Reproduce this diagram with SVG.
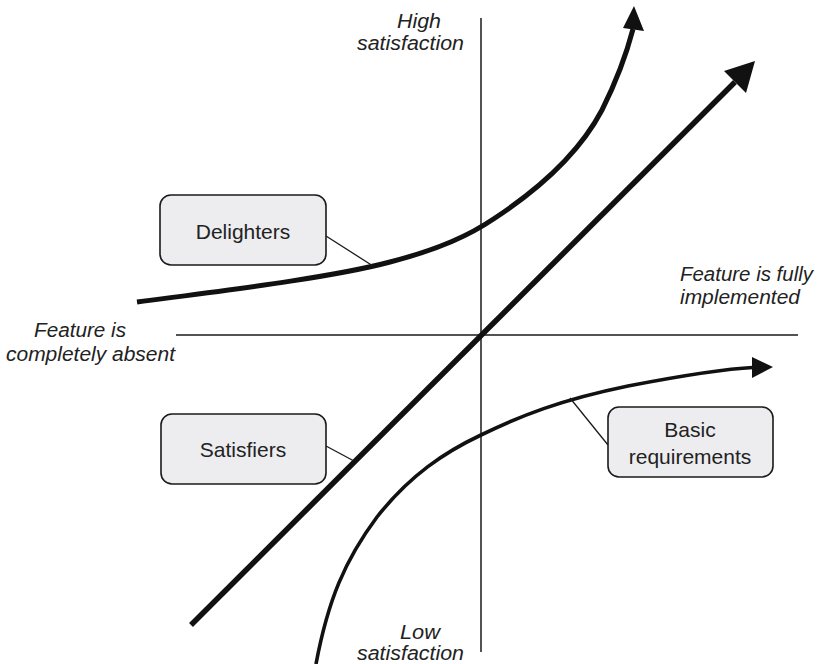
<svg xmlns="http://www.w3.org/2000/svg" width="818" height="664" viewBox="0 0 818 664">
<style>
.axis{stroke:#1a1a1a;stroke-width:1.5;fill:none}
.curve{stroke:#111;fill:none;stroke-linecap:butt}
.head{fill:#111;stroke:none}
.lead{stroke:#1a1a1a;stroke-width:1.3;fill:none}
.box{fill:#ededf0;stroke:#1a1a1a;stroke-width:1.6}
.lbl{font-family:"Liberation Sans",Arial,sans-serif;font-size:21px;fill:#222;text-anchor:middle}
.ax{font-family:"Liberation Sans",Arial,sans-serif;font-size:20px;font-style:italic;fill:#222}
</style>
<rect width="818" height="664" fill="#fff"/>
<g id="axes">
<line class="axis" x1="481" y1="18" x2="481" y2="652"/>
<line class="axis" x1="176" y1="335" x2="798" y2="335"/>
<text class="ax" x="397" y="28" textLength="44" lengthAdjust="spacingAndGlyphs">High</text>
<text class="ax" x="357" y="50" textLength="107" lengthAdjust="spacingAndGlyphs">satisfaction</text>
<text class="ax" x="680" y="281" textLength="133" lengthAdjust="spacingAndGlyphs">Feature is fully</text>
<text class="ax" x="680" y="304" textLength="120" lengthAdjust="spacingAndGlyphs">implemented</text>
<text class="ax" x="34" y="337" textLength="92" lengthAdjust="spacingAndGlyphs">Feature is</text>
<text class="ax" x="6" y="361" textLength="169" lengthAdjust="spacingAndGlyphs">completely absent</text>
<text class="ax" x="400" y="639" textLength="40" lengthAdjust="spacingAndGlyphs">Low</text>
<text class="ax" x="357" y="660" textLength="107" lengthAdjust="spacingAndGlyphs">satisfaction</text>
</g>
<g id="connectors">
<path class="curve" stroke-width="5" d="M137,302 C220,291 330,278 390,262 C440,249 470,235 495,218 C545,185 582,148 602,110 C617,80 627,52 633,29"/>
<polygon class="head" points="634,6 623,28 644,31"/>
<path class="curve" stroke-width="5.5" d="M191,625 L735,82"/>
<polygon class="head" points="755,61 724,71 746,93"/>
<path class="curve" stroke-width="3.6" d="M316,664 C328,600 345,560 377,517 C410,475 445,452 481,435 C520,416 560,400 628,386 C680,376 720,369 753,367.5"/>
<polygon class="head" points="773,367 752,357 752,378"/>
<line class="lead" x1="326" y1="236" x2="373" y2="266"/>
<line class="lead" x1="326" y1="446" x2="354" y2="461"/>
<line class="lead" x1="570" y1="398" x2="608" y2="445"/>
</g>
<g id="delighters">
<rect class="box" x="160" y="195" width="166" height="70" rx="11"/>
<text class="lbl" x="243" y="239">Delighters</text>
</g>
<g id="satisfiers">
<rect class="box" x="161" y="414" width="165" height="70" rx="11"/>
<text class="lbl" x="243" y="457">Satisfiers</text>
</g>
<g id="basic">
<rect class="box" x="608" y="407" width="165" height="70" rx="11"/>
<text class="lbl" x="690" y="437">Basic</text>
<text class="lbl" x="690" y="464">requirements</text>
</g>
</svg>
